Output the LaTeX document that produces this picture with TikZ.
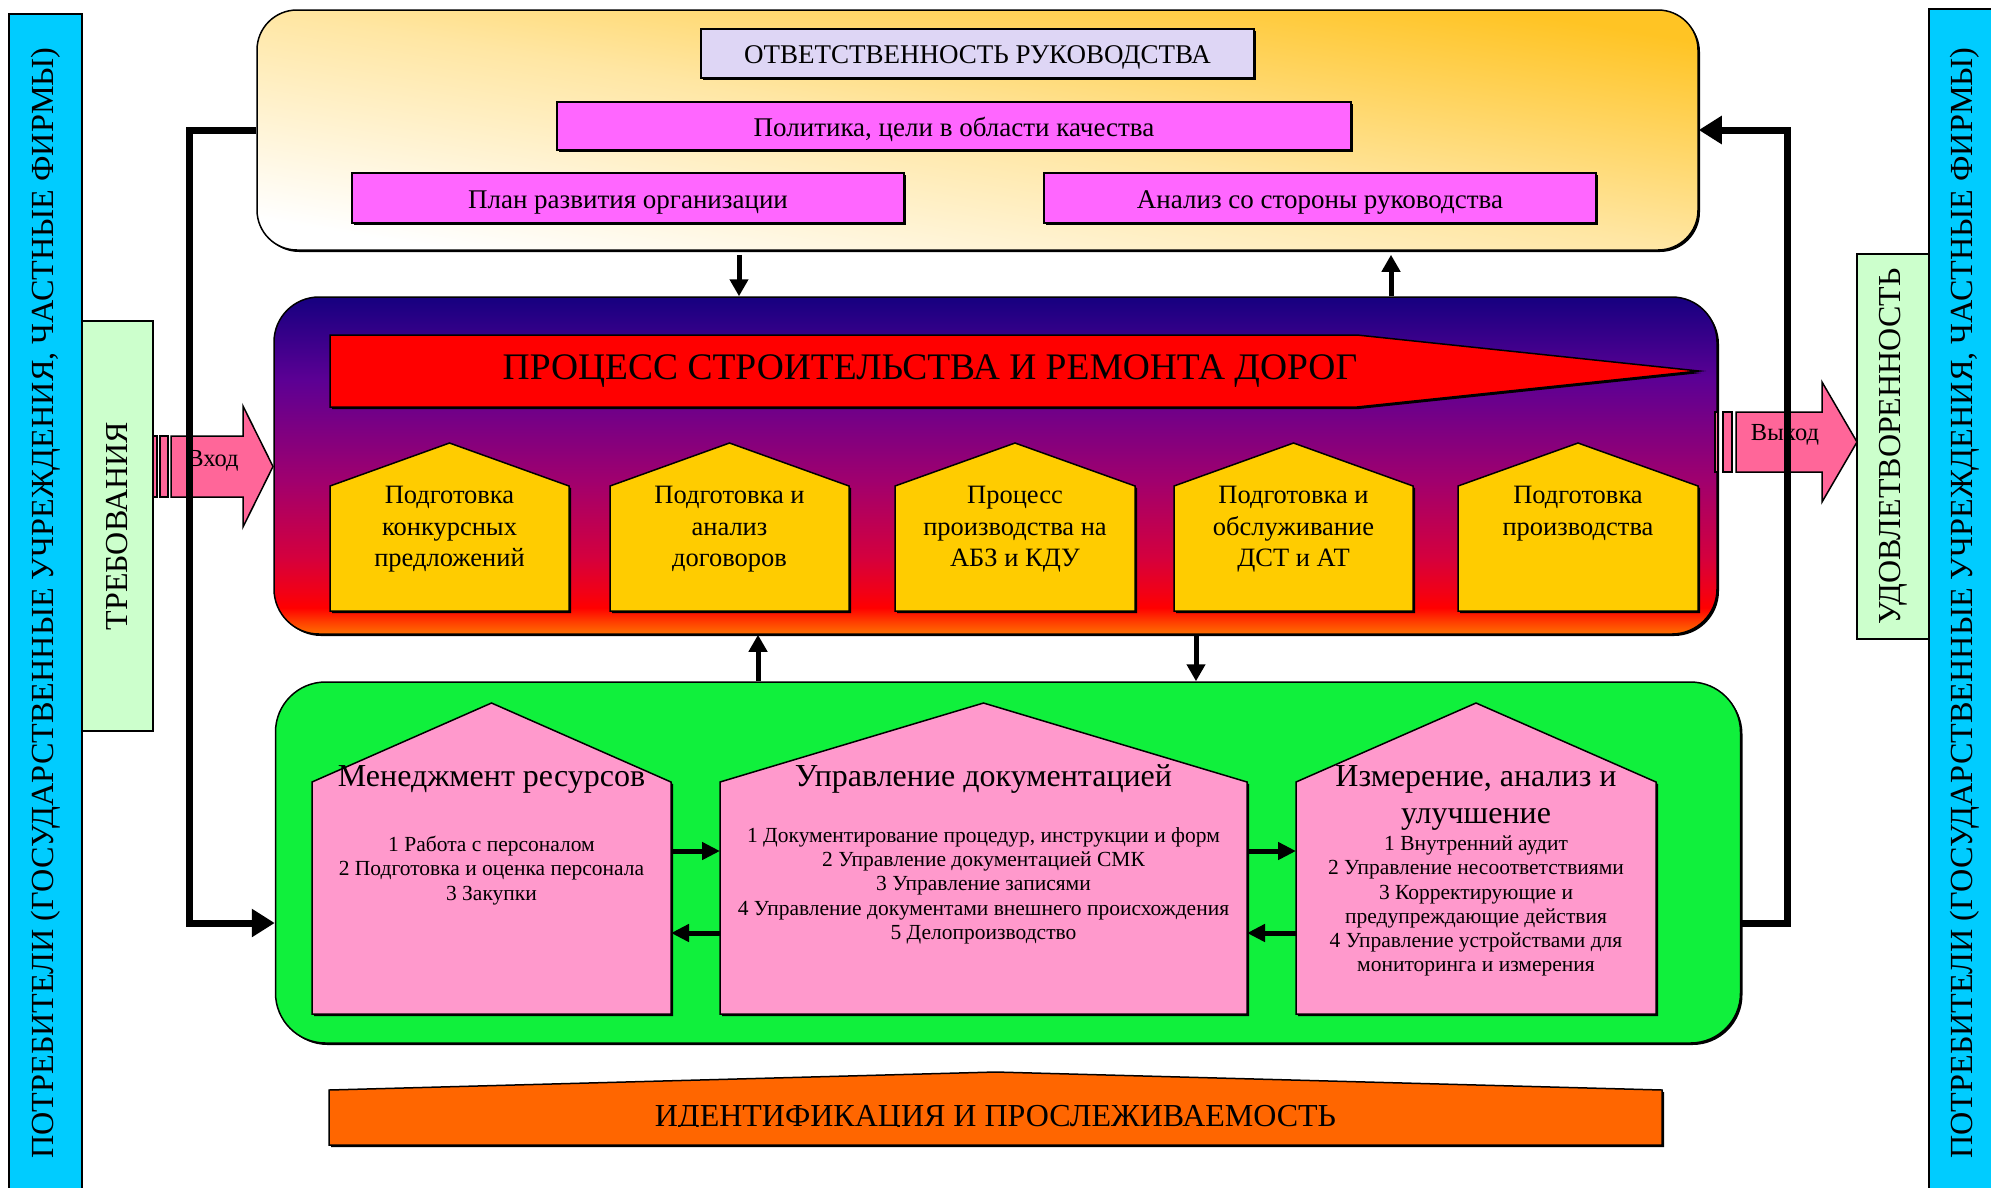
\documentclass[tikz,border=0pt]{standalone}
\usepackage{fontspec}
\setmainfont{Liberation Serif}
\usetikzlibrary{arrows.meta,shadows}

\definecolor{custblue}{RGB}{0,204,255}
\definecolor{reqgreen}{RGB}{204,255,204}
\definecolor{lavbox}{RGB}{222,214,245}
\definecolor{polmag}{RGB}{255,102,255}
\definecolor{stepgold}{RGB}{255,204,0}
\definecolor{arrpink}{RGB}{255,102,153}
\definecolor{suppgreen}{RGB}{16,240,60}
\definecolor{supppink}{RGB}{255,153,204}
\definecolor{idorange}{RGB}{255,102,0}
\definecolor{respgold}{RGB}{255,196,36}
\definecolor{procA}{RGB}{255,112,0}
\definecolor{procB}{RGB}{255,64,0}
\definecolor{procC}{RGB}{255,0,0}
\definecolor{procD}{RGB}{240,0,24}
\definecolor{procE}{RGB}{212,0,62}
\definecolor{procF}{RGB}{160,0,110}
\definecolor{procG}{RGB}{92,0,148}
\definecolor{procH}{RGB}{22,0,128}

\pgfdeclareverticalshading{procshade}{100bp}{color(0bp)=(procA); color(25bp)=(procA);
  color(26.8bp)=(procB); color(28.9bp)=(procC); color(31.5bp)=(procD);
  color(36.4bp)=(procE); color(47.8bp)=(procF); color(62.7bp)=(procG);
  color(75bp)=(procH); color(100bp)=(procH)}

\tikzset{
  outl/.style={draw=black, line width=1.5pt},
  shad/.style={general shadow={fill=black, shadow xshift=2pt, shadow yshift=-2pt}},
  custcol/.style={outl, fill=custblue, rotate=90, inner sep=0pt, font=\fontsize{32.2}{36}\selectfont},
  reqbox/.style={outl, fill=reqgreen, rotate=90, inner sep=0pt, font=\fontsize{32}{36}\selectfont},
  respbox/.style={outl, shad, rounded corners=40pt, bottom color=white, top color=respgold, middle color=respgold!42!white, shading angle=-9.5},
  topitem/.style={outl, shad, inner sep=0pt, text height=24pt, text depth=4pt, font=\fontsize{27}{30}\selectfont},
  procbox/.style={outl, shad, rounded corners=45pt, shading=procshade},
  suppbox/.style={outl, shad, rounded corners=50pt, fill=suppgreen},
  goldpent/.style={outl, shad, fill=stepgold},
  pinkpent/.style={outl, shad, fill=supppink},
  pinkbody/.style={inner sep=0pt, outer sep=0pt},
  steptext/.style={anchor=north, align=center, inner sep=0pt, font=\fontsize{26.5}{31.5}\selectfont},
  bigtitle/.style={align=center, inner sep=0pt, font=\fontsize{32}{37}\selectfont},
  itemtext/.style={anchor=north, align=center, inner sep=0pt, font=\fontsize{21.5}{24.3}\selectfont},
  arrtext/.style={inner sep=0pt, font=\fontsize{24.5}{27}\selectfont},
  varr/.style={line width=5pt, -{Triangle[width=18pt,length=17pt]}},
  blockarr/.style={line width=5pt, -{Triangle[width=17pt,length=18pt]}},
  looparr/.style={line width=7pt, -{Triangle[width=27pt,length=23pt]}}
}

\begin{document}
\begin{tikzpicture}[x=1pt, y=-1pt]
\useasboundingbox (0,0) rectangle (1991,1187);

% customers and requirements
\node[custcol, minimum width=1178, minimum height=73] (custL) at (45.5,603) {ПОТРЕБИТЕЛИ (ГОСУДАРСТВЕННЫЕ УЧРЕЖДЕНИЯ, ЧАСТНЫЕ ФИРМЫ)};
\node[custcol, minimum width=1188, minimum height=71] (custR) at (1964.5,603) {ПОТРЕБИТЕЛИ (ГОСУДАРСТВЕННЫЕ УЧРЕЖДЕНИЯ, ЧАСТНЫЕ ФИРМЫ)};
\node[reqbox, minimum width=410, minimum height=71] (req) at (117.5,526) {ТРЕБОВАНИЯ};
\node[reqbox, minimum width=385, minimum height=72] (sat) at (1893,446.5) {УДОВЛЕТВОРЕННОСТЬ};

% management responsibility
\node[respbox, minimum width=1441, minimum height=240] (resp) at (977.5,130) {};
\node[topitem, fill=lavbox, minimum width=553, minimum height=49] (respt) at (977.5,53.5) {ОТВЕТСТВЕННОСТЬ РУКОВОДСТВА};
\node[topitem, fill=polmag, minimum width=794, minimum height=48] (policy) at (954,126) {Политика, цели в области качества};
\node[topitem, fill=polmag, minimum width=552, minimum height=50] (plan) at (628,198) {План развития организации};
\node[topitem, fill=polmag, minimum width=552, minimum height=50] (review) at (1320,198) {Анализ со стороны руководства};

% main process
\node[procbox, minimum width=1443, minimum height=337] (proc) at (995.5,465.5) {};
\draw[outl, shad, fill=red] (330,335) -- (1357,335) -- (1699,371) -- (1357,407) -- (330,407) -- cycle;
\node[inner sep=0pt, font=\fontsize{37.5}{40}\selectfont] (proct) at (930,371) {ПРОЦЕСС СТРОИТЕЛЬСТВА И РЕМОНТА ДОРОГ};

\draw[goldpent] (330,611) -- (330,486) -- (449.5,443) -- (569,486) -- (569,611) -- cycle;
\node[steptext] (st1) at (449.5,486) {Подготовка\\конкурсных\\предложений};
\draw[goldpent] (610,611) -- (610,486) -- (729.5,443) -- (849,486) -- (849,611) -- cycle;
\node[steptext] (st2) at (729.5,486) {Подготовка и\\анализ\\договоров};
\draw[goldpent] (895,611) -- (895,486) -- (1015,443) -- (1135,486) -- (1135,611) -- cycle;
\node[steptext] (st3) at (1015,486) {Процесс\\производства на\\АБЗ и КДУ};
\draw[goldpent] (1174,611) -- (1174,486) -- (1293.5,443) -- (1413,486) -- (1413,611) -- cycle;
\node[steptext] (st4) at (1293.5,486) {Подготовка и\\обслуживание\\ДСТ и АТ};
\draw[goldpent] (1458,611) -- (1458,486) -- (1578,443) -- (1698,486) -- (1698,611) -- cycle;
\node[steptext] (st5) at (1578,486) {Подготовка\\производства};

% input and output
\draw[outl, fill=arrpink] (153,436) rectangle (157,497);
\draw[outl, fill=arrpink] (160,436) rectangle (168,497);
\draw[outl, fill=arrpink] (171,436) -- (243,436) -- (243,406) -- (273,466.5) -- (243,527) -- (243,497) -- (171,497) -- cycle;
\node[arrtext] (inl) at (213,460.5) {Вход};
\draw[outl, fill=arrpink] (1715,412) rectangle (1718,472);
\draw[outl, fill=arrpink] (1723,412) rectangle (1732,472);
\draw[outl, fill=arrpink] (1736,412) -- (1822,412) -- (1822,382) -- (1857,442) -- (1822,502) -- (1822,472) -- (1736,472) -- cycle;
\node[arrtext] (outl) at (1785,434.5) {Выход};

% support processes
\node[suppbox, minimum width=1465, minimum height=361] (supp) at (1008,862.5) {};
\node[pinkbody, minimum width=359, minimum height=232] (mgmt) at (491.5,898) {};
\draw[pinkpent] (mgmt.south west) -- (mgmt.north west) -- (491.5,703) -- (mgmt.north east) -- (mgmt.south east) -- cycle;
\node[bigtitle, anchor=base] (mgmtt) at (491.5,786) {Менеджмент ресурсов};
\node[itemtext] (mgmti) at (491.5,836) {1 Работа с персоналом\\2 Подготовка и оценка персонала\\3 Закупки};
\node[pinkbody, minimum width=527, minimum height=232] (docs) at (983.5,898) {};
\draw[pinkpent] (docs.south west) -- (docs.north west) -- (983.5,703) -- (docs.north east) -- (docs.south east) -- cycle;
\node[bigtitle, anchor=base] (docst) at (983.5,786) {Управление документацией};
\node[itemtext] (docsi) at (983.5,827) {1 Документирование процедур, инструкции и форм\\2 Управление документацией СМК\\3 Управление записями\\4 Управление документами внешнего происхождения\\5 Делопроизводство};
\node[pinkbody, minimum width=360, minimum height=232] (meas) at (1476,898) {};
\draw[pinkpent] (meas.south west) -- (meas.north west) -- (1476,703) -- (meas.north east) -- (meas.south east) -- cycle;
\node[bigtitle, anchor=north] (meast) at (1476,765.5) {Измерение, анализ и\\улучшение};
\node[itemtext] (measi) at (1476,835.5) {1 Внутренний аудит\\2 Управление несоответствиями\\3 Корректирующие и\\предупреждающие  действия\\4 Управление устройствами для\\мониторинга и измерения};

\draw[blockarr] ([yshift=47pt]mgmt.east) -- ([yshift=47pt]docs.west);
\draw[blockarr] ([yshift=-35pt]docs.west) -- ([yshift=-35pt]mgmt.east);
\draw[blockarr] ([yshift=47pt]docs.east) -- ([yshift=47pt]meas.west);
\draw[blockarr] ([yshift=-35pt]meas.west) -- ([yshift=-35pt]docs.east);

% identification
\draw[outl, shad, fill=idorange] (329,1145) -- (329,1090) -- (995.5,1072) -- (1662,1090) -- (1662,1145) -- cycle;
\begin{scope}
\clip (329,1080) rectangle (1662,1126.5);
\node[anchor=base, inner sep=0pt, font=\fontsize{32}{36}\selectfont] (idt) at (995.5,1126) {ИДЕНТИФИКАЦИЯ И ПРОСЛЕЖИВАЕМОСТЬ};
\end{scope}

% links between levels
\draw[varr, shorten <=4pt] ([xshift=-238.5pt]resp.south) -- ([xshift=-256.5pt]proc.north);
\draw[varr, shorten >=4pt] ([xshift=395.5pt]proc.north) -- ([xshift=413.5pt]resp.south);
\draw[varr] ([xshift=-250pt]supp.north) -- ([xshift=-237.5pt]proc.south);
\draw[varr] ([xshift=200.5pt]proc.south) -- ([xshift=188pt]supp.north);

% feedback loop
\coordinate (lcorner) at (189,923);
\coordinate (rcorner) at (1787,923);
\draw[looparr] (resp.west) -| (lcorner) -- ([yshift=-60.5pt]supp.west);
\draw[looparr] ([yshift=-60.5pt]supp.east) -- (rcorner) |- (resp.east);
\end{tikzpicture}
\end{document}
